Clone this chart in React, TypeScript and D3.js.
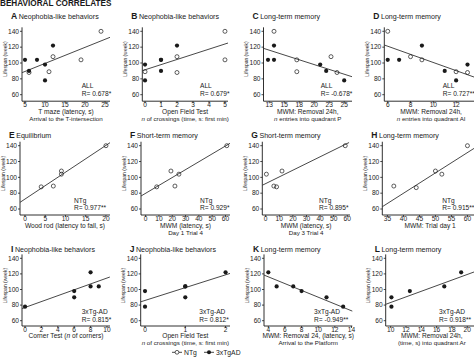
import React from 'react';
import * as d3 from 'd3';

// ---------------- data ----------------
type Pt = [number, number];

const aNTg: Pt[] = [[6, 88], [11, 89], [12, 108], [19, 104], [24, 140]];
const aTg: Pt[] = [[5, 104], [6, 90], [8, 104], [10, 98], [10, 78], [12, 122]];
const aFit: Pt[] = [[4.25, 87.8], [26.25, 132.4]];

const bNTg: Pt[] = [[0, 89], [2, 108], [2, 88], [5, 140], [5, 104]];
const bTg: Pt[] = [[0, 98], [0, 78], [1, 104], [1, 104], [1, 90], [2, 122]];
const bFit: Pt[] = [[-0.17, 90.3], [5.19, 125.2]];

const cNTg: Pt[] = [[13.3, 140], [17.1, 104], [17.1, 89], [22.8, 108], [23.8, 88]];
const cTg: Pt[] = [[12.3, 104], [13.3, 122], [13.3, 104], [21, 98], [22, 90], [25, 78]];
const cFit: Pt[] = [[11.55, 118.5], [26.3, 82.7]];

const dNTg: Pt[] = [[6, 140], [8, 108], [9, 104], [12, 89], [13, 88]];
const dTg: Pt[] = [[6, 104], [7, 104], [9, 122], [11, 90], [12, 78], [13, 98]];
const dFit: Pt[] = [[5.7, 122.7], [13.92, 80.5]];

const eNTg: Pt[] = [[4, 88], [7, 89], [9, 108], [9, 104], [20, 140]];
const eFit: Pt[] = [[-1.23, 68.4], [21, 143.8]];

const fNTg: Pt[] = [[8.3, 88], [19, 108], [22, 89], [25, 104], [61, 140]];
const fFit: Pt[] = [[-3.5, 76.4], [63.4, 143]];

const gNTg: Pt[] = [[0.5, 104], [6, 89], [8, 88], [12, 108], [58.5, 140]];
const gFit: Pt[] = [[-2.5, 90], [61.3, 144]];

const hNTg: Pt[] = [[37, 89], [44, 87], [50, 108], [52, 104], [60, 140]];
const hFit: Pt[] = [[33.4, 62.9], [62.1, 136.7]];

const iTg: Pt[] = [[0, 78], [6, 98], [6, 90], [8, 122], [8, 104], [9, 104]];
const iFit: Pt[] = [[-0.37, 75.6], [10.35, 116]];

const jTg: Pt[] = [[0, 98], [0, 78], [1, 104], [1, 104], [1, 90], [2, 122]];
const jFit: Pt[] = [[-0.107, 84.2], [2.11, 120.6]];

const kTg: Pt[] = [[4, 122], [5, 104], [7, 104], [8, 98], [11, 90], [13, 78]];
const kFit: Pt[] = [[3.48, 118.5], [14.1, 72.3]];

const lTg: Pt[] = [[10.1, 90], [10.1, 78], [12.5, 98], [17, 104], [19.2, 122]];
const lFit: Pt[] = [[9.35, 81], [20.9, 122.5]];

const yTicks = [60, 80, 100, 120, 140];
const ticksA = [5, 10, 15, 20, 25];
const ticksB = [0, 1, 2, 3, 4, 5];
const ticksC = [12.5, 15, 17.5, 20, 22.5, 25];
const ticksD = [6, 8, 10, 12];
const ticksE = [0, 5, 10, 15, 20];
const ticksF = [0, 10, 20, 30, 40, 50, 60];
const ticksH = [35, 40, 45, 50, 55, 60];
const ticksI = [0, 2, 4, 6, 8, 10];
const ticksJ = [0, 1, 2];
const ticksK = [4, 6, 8, 10, 12, 14];
const ticksL = [10, 12, 14, 16, 18, 20];

// ---------------- layout ----------------
const rows = [
  { y140: 31.3, y60: 94.7, titleY: 18.5, axisY: 101.2, tickY: 107.2, xl1: 114.2, xl2: 121.4 },
  { y140: 145.7, y60: 209, titleY: 138.2, axisY: 215, tickY: 221, xl1: 228.4, xl2: 235 },
  { y140: 258.3, y60: 320.7, titleY: 251.5, axisY: 326, tickY: 331.6, xl1: 337.8, xl2: 345 },
];

const panels = [
  { id: 'A', title: 'Neophobia-like behaviors', row: 0, left: 22, right: 110, dom: [4.25, 26.25], ticks: ticksA, ntg: aNTg, tg: aTg, fit: aFit, grp: 'ALL', r: 'R= 0.678*', noteX: 81.7, xl: ['T maze (latency, s)', 'Arrival to the T-intersection'] },
  { id: 'B', title: 'Neophobia-like behaviors', row: 0, left: 142.3, right: 228, dom: [-0.17, 5.19], ticks: ticksB, ntg: bNTg, tg: bTg, fit: bFit, grp: 'ALL', r: 'R= 0.679*', noteX: 200, xl: ['Open Field Test', '*n* of crossings (time, s: first min)'] },
  { id: 'C', title: 'Long-term memory', row: 0, left: 263.5, right: 352, dom: [11.55, 26.3], ticks: ticksC, ntg: cNTg, tg: cTg, fit: cFit, grp: 'ALL', r: 'R= -0.678*', noteX: 320.7, xl: ['MWM: Removal 24h,', '*n* entries into quadrant P'] },
  { id: 'D', title: 'Long-term memory', row: 0, left: 384.3, right: 478, dom: [5.7, 13.92], ticks: ticksD, ntg: dNTg, tg: dTg, fit: dFit, grp: 'ALL', r: 'R= 0.727**', noteX: 442.7, xl: ['MWM: Removal 24h,', '*n* entries into quadrant AI'] },
  { id: 'E', title: 'Equilibrium', row: 1, left: 20, right: 110, dom: [-1.23, 21], ticks: ticksE, ntg: eNTg, tg: [], fit: eFit, grp: 'NTg', r: 'R= 0.977**', noteX: 74, xl: ['Wood rod (latency to fall, s)'] },
  { id: 'F', title: 'Short-term memory', row: 1, left: 141, right: 230, dom: [-3.5, 63.4], ticks: ticksF, ntg: fNTg, tg: [], fit: fFit, grp: 'NTg', r: 'R= 0.929*', noteX: 200, xl: ['MWM (latency, s)', 'Day 1 Trial 4'] },
  { id: 'G', title: 'Short-term memory', row: 1, left: 262.3, right: 350, dom: [-2.5, 62], ticks: ticksF, ntg: gNTg, tg: [], fit: gFit, grp: 'NTg', r: 'R= 0.895*', noteX: 319, xl: ['MWM (latency, s)', 'Day 3 Trial 4'] },
  { id: 'H', title: 'Long-term memory', row: 1, left: 382.3, right: 478, dom: [33.4, 63.3], ticks: ticksH, ntg: hNTg, tg: [], fit: hFit, grp: 'NTg', r: 'R= 0.915**', noteX: 442.3, xl: ['MWM: Trial day 1'] },
  { id: 'I', title: 'Neophobia-like behaviors', row: 2, left: 22, right: 110, dom: [-0.37, 10.37], ticks: ticksI, ntg: [], tg: iTg, fit: iFit, grp: '3xTg-AD', r: 'R= 0.815*', noteX: 81.7, xl: ['Corner Test (*n* of corners)'] },
  { id: 'J', title: 'Neophobia-like behaviors', row: 2, left: 140.7, right: 230, dom: [-0.107, 2.11], ticks: ticksJ, ntg: [], tg: jTg, fit: jFit, grp: '3xTg-AD', r: 'R= 0.812*', noteX: 199.3, xl: ['Open Field Test', '*n* of crossings (time, s: first min)'] },
  { id: 'K', title: 'Long-term memory', row: 2, left: 264, right: 352.3, dom: [3.48, 14.1], ticks: ticksK, ntg: [], tg: kTg, fit: kFit, grp: '3xTg-AD', r: 'R= -0.949**', noteX: 314, xl: ['MWM: Removal 24, (latency, s)', 'Arrival to the Platform'] },
  { id: 'L', title: 'Long-term memory', row: 2, left: 385.7, right: 478, dom: [9.35, 21.4], ticks: ticksL, ntg: [], tg: lTg, fit: lFit, grp: '3xTg-AD', r: 'R= 0.918**', noteX: 439, xl: ['MWM: Removal 24h,', '(time, s)  into quadrant Ar'] },
];

const FONT = 'Liberation Sans, Arial, Helvetica, sans-serif';
const INK = '#1a1a1a';

function RichText({ s }: { s: string }) {
  // segments wrapped in asterisks are italic
  const segs: { t: string; it: boolean }[] = [];
  s.split(/(\*[^*]+\*)/g).forEach((r) => {
    if (!r) return;
    if (r.startsWith('*') && r.endsWith('*') && r.length > 2) segs.push({ t: r.slice(1, -1), it: true });
    else segs.push({ t: r, it: false });
  });
  return (
    <>
      {segs.map((g, i) => (
        <tspan key={i} fontStyle={g.it ? 'italic' : 'normal'}>{g.t}</tspan>
      ))}
    </>
  );
}

function Panel({ p }: { p: (typeof panels)[number] }) {
  const row = rows[p.row];
  const x = d3.scaleLinear().domain(p.dom).range([p.left, p.right]);
  const y = d3.scaleLinear().domain([60, 140]).range([row.y60, row.y140]);
  const top = y(145);
  const line = d3.line<Pt>().x((d) => x(d[0])).y((d) => y(d[1]));
  const cx = (p.left + Math.min(p.right, 474)) / 2 + (p.right > 474 ? 2 : 0);
  const fmt = (v: number) => String(Math.round(v));
  return (
    <g>
      <text x={p.left - 11} y={row.titleY} fontFamily={FONT} fill={INK}>
        <tspan fontWeight="bold" fontSize={8.5}>{p.id}</tspan>
        <tspan dx={1.5} fontSize={7.1}>{p.title}</tspan>
      </text>
      <line x1={p.left} x2={p.left} y1={top} y2={row.axisY} stroke={INK} strokeWidth={0.9} />
      <line x1={p.left} x2={p.right} y1={row.axisY} y2={row.axisY} stroke={INK} strokeWidth={0.9} />
      {yTicks.map((t) => (
        <g key={'y' + t}>
          <line x1={p.left - 2} x2={p.left} y1={y(t)} y2={y(t)} stroke={INK} strokeWidth={0.8} />
          <text x={p.left - 3} y={y(t) + 2.3} textAnchor="end" fontSize={6.6} fontFamily={FONT} fill={INK}>{t}</text>
        </g>
      ))}
      {p.ticks.map((t) => (
        <g key={'x' + t}>
          <line x1={x(t)} x2={x(t)} y1={row.axisY} y2={row.axisY + 2} stroke={INK} strokeWidth={0.8} />
          <text x={x(t)} y={row.tickY} textAnchor="middle" fontSize={6.6} fontFamily={FONT} fill={INK}>{fmt(t)}</text>
        </g>
      ))}
      <text transform={`translate(${p.left - 15.5},${y(105)}) rotate(-90)`} textAnchor="middle" fontSize={5} fontFamily={FONT} fill={INK}>Lifespan (week)</text>
      <path d={line(p.fit) || ''} stroke="#333" strokeWidth={0.9} fill="none" />
      {p.tg.map((d, i) => (
        <circle key={'t' + i} cx={x(d[0])} cy={y(d[1])} r={2.1} fill={INK} />
      ))}
      {p.ntg.map((d, i) => (
        <circle key={'n' + i} cx={x(d[0])} cy={y(d[1])} r={2} fill="none" stroke={INK} strokeWidth={0.7} />
      ))}
      <text x={p.noteX} y={row.y60 - 6.4} fontSize={6.6} fontFamily={FONT} fill={INK}>{p.grp}</text>
      <text x={p.noteX} y={row.y60 + 0.8} fontSize={6.6} fontFamily={FONT} fill={INK}>{p.r}</text>
      {p.xl.map((s, i) => (
        <text key={'xl' + i} x={cx} y={i === 0 ? row.xl1 : row.xl2} textAnchor="middle" fontSize={i === 0 ? 6.6 : 6.2} fontFamily={FONT} fill={INK}>
          <RichText s={s} />
        </text>
      ))}
    </g>
  );
}

export default function App() {
  return (
    <svg width={474} height={360} style={{ position: 'absolute', left: 0, top: 0, background: '#fff' }}>
      <rect x={0} y={0} width={474} height={360} fill="#fff" />
      <text x={0} y={6} fontSize={8.2} fontWeight="bold" fontFamily={FONT} fill={INK}>BEHAVIORAL CORRELATES</text>
      {panels.map((p) => (
        <Panel key={p.id} p={p} />
      ))}
      <g fontFamily={FONT} fontSize={6.8} fill={INK}>
        <line x1={172} x2={182} y1={352.3} y2={352.3} stroke={INK} strokeWidth={0.8} />
        <circle cx={177} cy={352.3} r={1.9} fill="#fff" stroke={INK} strokeWidth={0.7} />
        <text x={184} y={354.7}>NTg</text>
        <line x1={204} x2={214} y1={352.3} y2={352.3} stroke={INK} strokeWidth={0.8} />
        <circle cx={209} cy={352.3} r={2} fill={INK} />
        <text x={216} y={354.7}>3xTgAD</text>
      </g>
    </svg>
  );
}
